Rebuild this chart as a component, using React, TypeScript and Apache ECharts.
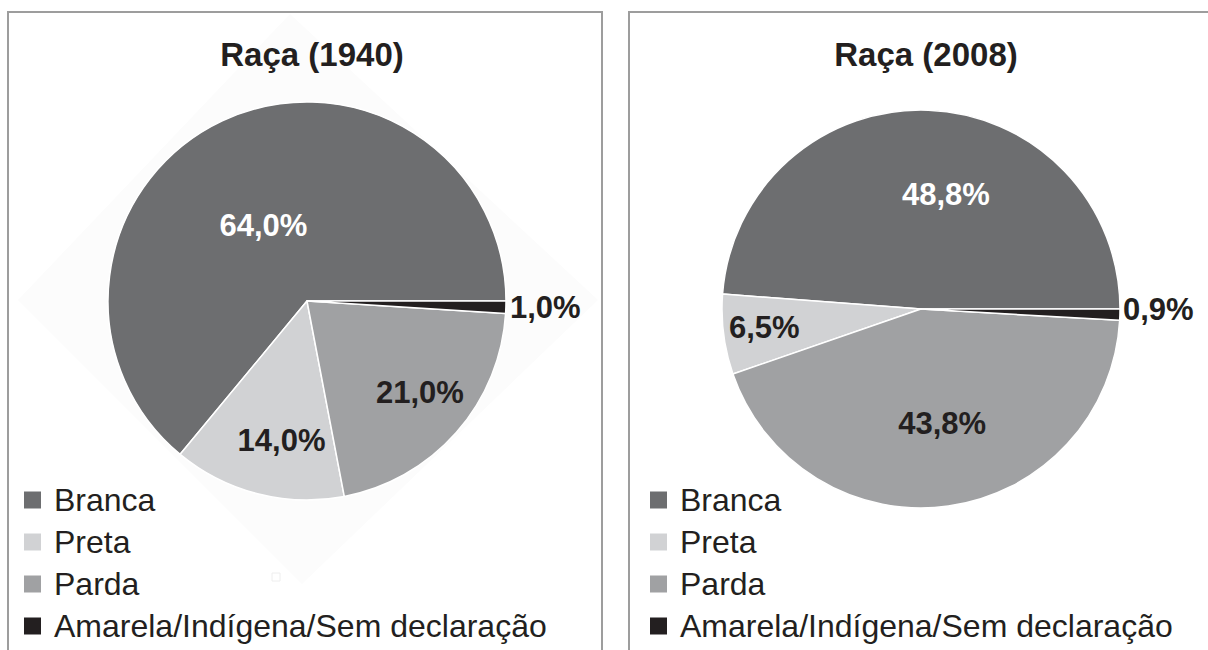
import React, { useEffect, useRef } from "react";
import * as echarts from "echarts";

const categories = ["Branca", "Preta", "Parda", "Amarela/Indígena/Sem declaração"];
const values1940 = [64.0, 14.0, 21.0, 1.0];
const values2008 = [48.8, 6.5, 43.8, 0.9];
const titles = ["Raça (1940)", "Raça (2008)"];

const colors = ["#6d6e70", "#d1d2d4", "#a0a1a3", "#231f20"];
const labelColors = ["#ffffff", "#231f20", "#231f20", "#231f20"];
const labelPositions = ["inside", "inside", "inside", "outside"];
// label nudges (dx, dy) per pie
const labelNudges = [
  [[0, 17], [0, 40], [36, 24], [-2, 0]],
  [[21, -12], [-55, 5], [7, 13], [-3, -5]],
];

const FONT = "'Liberation Sans', Arial, Helvetica, sans-serif";

const fmt = (v: number) => v.toFixed(1).replace(".", ",") + "%";

function buildData(values: number[]) {
  return categories.map((name, i) => ({
    name,
    value: values[i],
    itemStyle: { color: colors[i] },
    label: {
      position: labelPositions[i],
      color: labelColors[i],
      fontSize: 31,
      fontWeight: "bold",
      fontFamily: FONT,
    },
  }));
}

export default function App() {
  const ref = useRef<HTMLDivElement>(null);
  useEffect(() => {
    if (!ref.current) return;
    const chart = echarts.init(ref.current, null, { renderer: "svg" });
    const makeSeries = (values: number[], center: [number, number], idx: number) => ({
      type: "pie",
      center,
      radius: 199,
      startAngle: 0,
      clockwise: false,
      avoidLabelOverlap: false,
      data: buildData(values),
      itemStyle: { borderColor: "#ffffff", borderWidth: 1.5 },
      label: {
        show: true,
        formatter: (p: any) => fmt(p.value),
        fontFamily: FONT,
        fontWeight: "bold",
        fontSize: 31,
      },
      labelLine: { show: false, length: 1, length2: 0 },
      labelLayout: (p: any) => {
        const n = labelNudges[idx][p.dataIndex];
        return { dx: n[0], dy: n[1] };
      },
      emphasis: { disabled: true },
      z: 3,
    });
    const legendBase = {
      orient: "vertical",
      icon: "rect",
      itemWidth: 19,
      itemHeight: 19,
      itemGap: 10,
      data: categories,
      selectedMode: false,
      textStyle: { fontFamily: FONT, fontSize: 32, color: "#231f20", padding: [0, 0, 0, 7] },
      padding: 0,
    };
    chart.setOption({
      animation: false,
      backgroundColor: "#ffffff",
      title: [
        {
          text: titles[0],
          left: 307,
          top: 33,
          textAlign: "center",
          textStyle: { fontFamily: FONT, fontWeight: "bold", fontSize: 33, color: "#231f20" },
        },
        {
          text: titles[1],
          left: 921,
          top: 33,
          textAlign: "center",
          textStyle: { fontFamily: FONT, fontWeight: "bold", fontSize: 33, color: "#231f20" },
        },
      ],
      legend: [
        { ...legendBase, left: 22, top: 484 },
        { ...legendBase, left: 648, top: 484 },
      ],
      graphic: [
        {
          type: "polygon",
          shape: { points: [[290, 14], [598, 300], [302, 584], [18, 300]] },
          style: { fill: "#fcfcfc" },
          silent: true,
          z: -10,
        },
        {
          type: "rect",
          shape: { x: 8, y: 12, width: 594, height: 700 },
          style: { fill: "none", stroke: "#9d9d9d", lineWidth: 2 },
          silent: true,
        },
        {
          type: "rect",
          shape: { x: 629, y: 12, width: 700, height: 700 },
          style: { fill: "none", stroke: "#9d9d9d", lineWidth: 2 },
          silent: true,
        },
        {
          type: "rect",
          shape: { x: 272, y: 573, width: 8, height: 8 },
          style: { fill: "none", stroke: "#eeeeee", lineWidth: 1 },
          silent: true,
        },
      ],
      series: [
        makeSeries(values1940, [307, 301], 0),
        makeSeries(values2008, [921, 309], 1),
      ],
    });
    return () => chart.dispose();
  }, []);
  return (
    <div
      ref={ref}
      style={{ position: "fixed", left: 0, top: 0, width: 1208, height: 650, background: "#fff" }}
    />
  );
}
